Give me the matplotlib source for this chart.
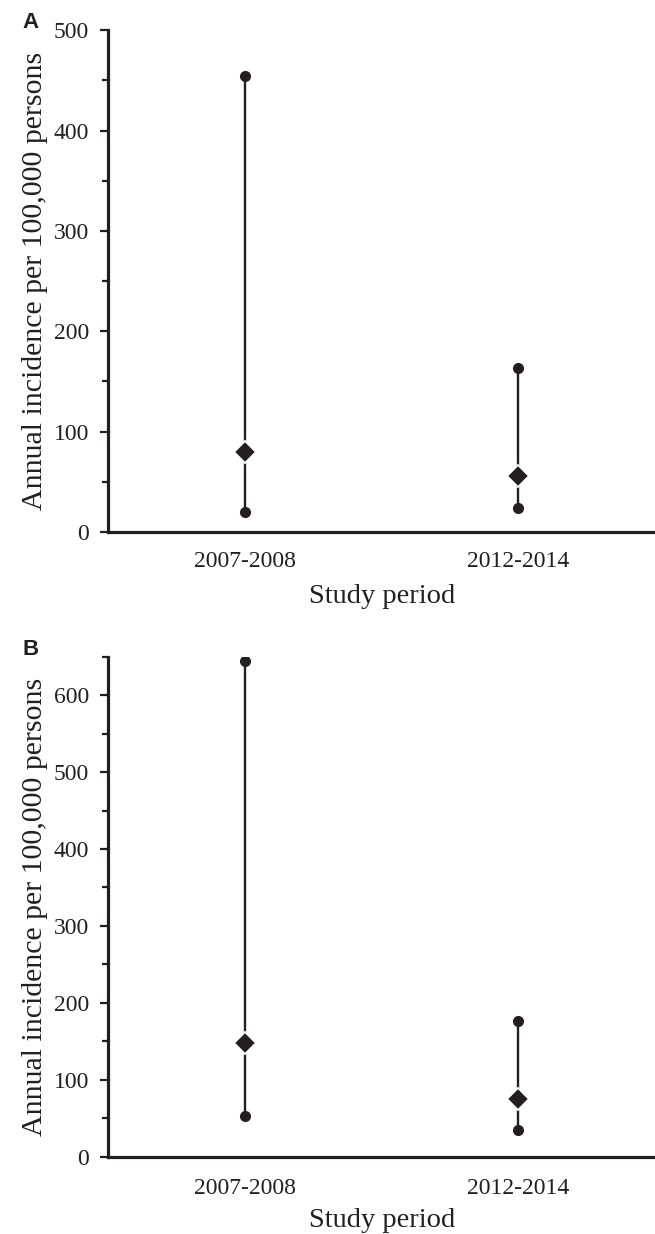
import matplotlib
matplotlib.use("Agg")
import matplotlib.pyplot as plt
from matplotlib.ticker import MultipleLocator

periods = ["2007-2008", "2012-2014"]
# Panel A
a_point = [80, 55.5]
a_lower = [19.6, 24]
a_upper = [454, 163]
# Panel B
b_point = [147.5, 75]
b_lower = [52.5, 34.7]
b_upper = [644, 176.5]

ylabel = "Annual incidence per 100,000 persons"
xlabel = "Study period"
ink = "#231f20"

plt.rcParams["font.family"] = ["Liberation Serif", "DejaVu Serif"]

W, H = 655, 1234
fig = plt.figure(figsize=(W / 100, H / 100), dpi=100)
axA = fig.add_axes([108.3 / W, 1 - 532 / H, 1 - 108.3 / W, (532 - 30.3) / H])
axB = fig.add_axes([108.3 / W, 1 - 1156.7 / H, 1 - 108.3 / W, (1156.7 - 656.7) / H])

def draw(ax, point, lower, upper, ymax, letter, letter_base, xpad, tpad):
    x = list(range(len(periods)))
    for i in x:
        ax.plot([i, i], [lower[i], upper[i]], color=ink, lw=1.7, zorder=2)
    ax.plot(x, lower, 'o', color=ink, ms=7, zorder=3)
    ax.plot(x, upper, 'o', color=ink, ms=7, zorder=3)
    ax.plot(x, point, 'D', color=ink, ms=11, mec="white", mew=1.3, zorder=4)
    ax.set_xlim(-0.5, 1.5)
    ax.set_ylim(0, ymax)
    ax.set_xticks(x)
    ax.set_xticklabels(periods)
    ax.yaxis.set_major_locator(MultipleLocator(100))
    ax.yaxis.set_minor_locator(MultipleLocator(50))
    for s in ["top", "right"]:
        ax.spines[s].set_visible(False)
    for s in ["left", "bottom"]:
        ax.spines[s].set_linewidth(2.3)
        ax.spines[s].set_color(ink)
    ax.tick_params(axis="y", which="major", direction="out", length=6, width=1.6,
                   colors=ink, labelsize=17, pad=8)
    ax.tick_params(axis="y", which="minor", direction="out", length=4.5, width=1.6,
                   colors=ink)
    ax.tick_params(axis="x", length=0, labelsize=17, pad=tpad, colors=ink)
    ax.set_ylabel(ylabel, fontsize=21.5, color=ink, labelpad=4)
    ax.set_xlabel(xlabel, fontsize=20.5, color=ink, labelpad=xpad)
    fig.text(22.7 / W, 1 - letter_base / H, letter, fontsize=16,
             fontweight="bold", family="Liberation Sans", color=ink,
             ha="left", va="baseline")

draw(axA, a_point, a_lower, a_upper, 500, "A", 28.3, 8.5, 14)
draw(axB, b_point, b_lower, b_upper, 650, "B", 655, 7, 15)

fig.savefig("out.png", dpi=100)
